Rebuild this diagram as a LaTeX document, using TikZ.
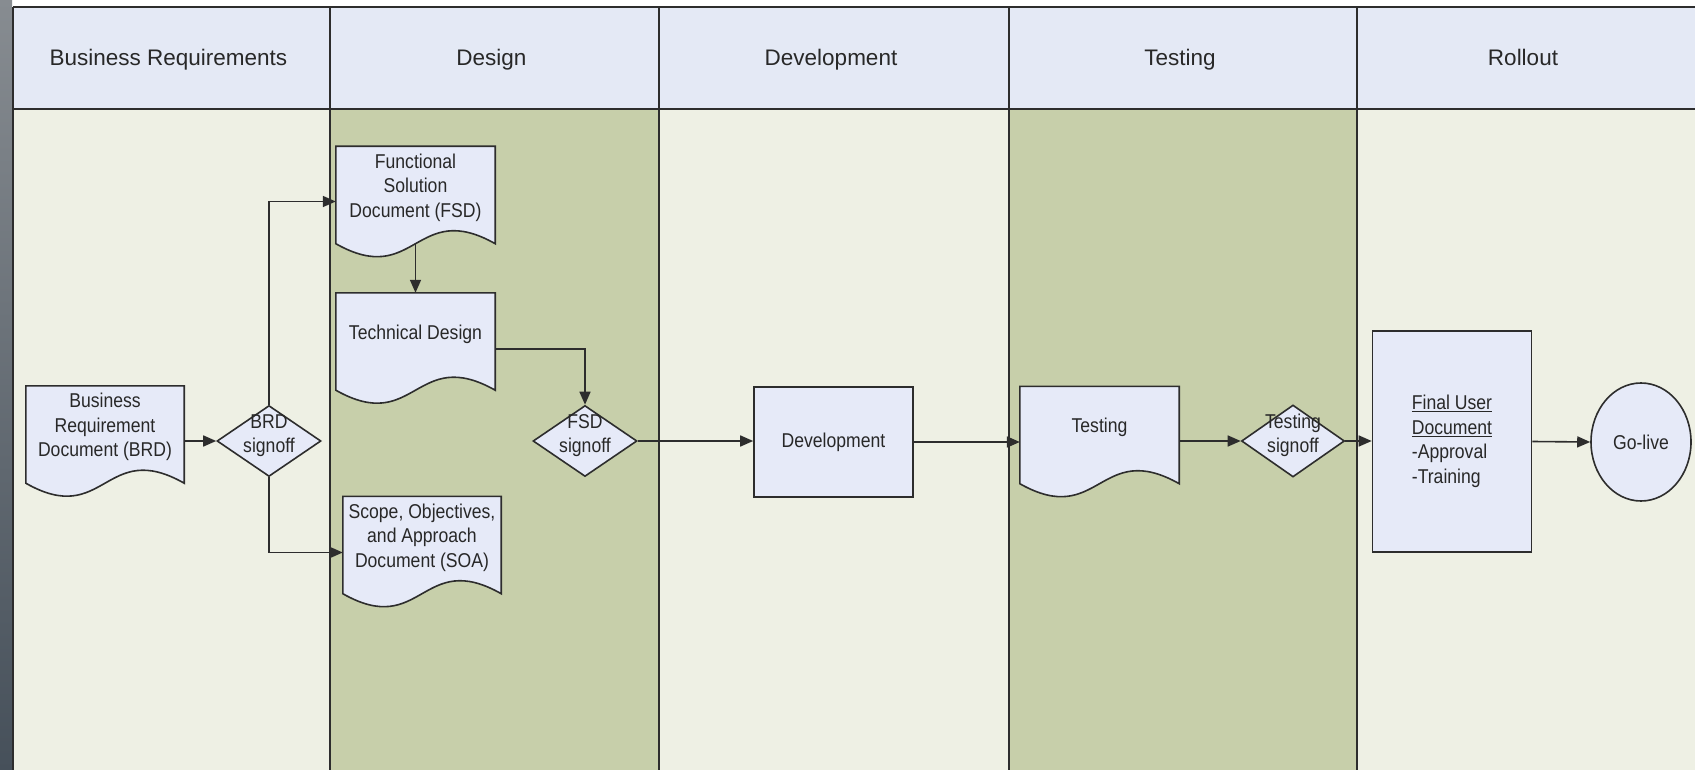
\documentclass[tikz,border=0pt]{standalone}
\usepackage{fontspec}
\setmainfont{Liberation Sans}
\newfontfamily\shapefont{Liberation Sans}[FakeStretch=0.88]
\usetikzlibrary{arrows.meta,shapes.geometric}

\definecolor{headfill}{RGB}{228,233,245}
\definecolor{lanelight}{RGB}{238,240,228}
\definecolor{lanedark}{RGB}{199,207,170}
\definecolor{shapefill}{RGB}{230,234,248}
\definecolor{lineclr}{RGB}{45,45,45}
\definecolor{txtclr}{RGB}{40,40,40}
\definecolor{stripa}{RGB}{135,140,145}
\definecolor{stripb}{RGB}{88,112,125}
\definecolor{stripc}{RGB}{70,80,90}

\pgfdeclarelayer{lanes}
\pgfdeclarelayer{docs}
\pgfsetlayers{lanes,docs,main}

\newcommand\dtext[1]{\makebox[0pt]{\smash{\begin{tabular}{@{}c@{}}#1\end{tabular}}}}
\newcommand\docwave[1]{%
  \begin{pgfonlayer}{docs}
  \draw[docline] (#1.north west) -- (#1.north east) -- ([yshift=-15pt]#1.south east)
    .. controls ([yshift=30pt]#1.south) and ([yshift=-60pt]#1.south) .. ([yshift=-15pt]#1.south west) -- cycle;
  \end{pgfonlayer}}

\begin{document}
\begin{tikzpicture}[x=1pt,y=-1pt,
  laneline/.style={draw=lineclr,line width=1.3pt},
  headtext/.style={font=\fontsize{22.5}{27}\selectfont,text=txtclr,anchor=base},
  shapetext/.style={font=\shapefont\fontsize{20}{24.5}\selectfont,text=txtclr},
  doc/.style={shapetext,inner sep=0pt,minimum width=159pt,minimum height=82pt,align=center},
  docline/.style={draw=lineclr,fill=shapefill,line width=1.6pt},
  decision/.style={shapetext,diamond,draw=lineclr,fill=shapefill,line width=1.6pt,inner sep=0pt,minimum width=104pt,minimum height=71pt},
  process/.style={shapetext,rectangle,draw=lineclr,fill=shapefill,line width=1.6pt,inner sep=0pt,minimum width=159pt,minimum height=110pt},
  terminal/.style={shapetext,ellipse,draw=lineclr,fill=shapefill,line width=1.6pt,inner sep=0pt,minimum width=100pt,minimum height=118pt},
  flow/.style={draw=lineclr,line width=1.6pt,-{Triangle[length=13pt,width=11pt]}}]
\useasboundingbox (0,0) rectangle (1695,770);

\begin{pgfonlayer}{lanes}
\fill[white] (0,0) rectangle (1695,770);
\shade[top color=stripa,middle color=stripb,bottom color=stripc] (0,0) rectangle (12,770);
\fill[headfill] (13,7) rectangle (1695,109);
\foreach \xa/\xb/\clr in {13/330/lanelight,330/659/lanedark,659/1009/lanelight,1009/1357/lanedark,1357/1695/lanelight}
  \fill[\clr] (\xa,109) rectangle (\xb,770);
\end{pgfonlayer}

\draw[laneline] (13,7) -- (1695,7);
\draw[laneline,line width=2.2pt] (13,109) -- (1695,109);
\foreach \xa in {13,330,659,1009,1357}
  \draw[laneline] (\xa,7) -- (\xa,770);

\foreach \xa/\xb/\name [count=\i] in {13/330/Business Requirements,330/659/Design,659/1009/Development,1009/1357/Testing,1357/1695/Rollout}
  \node[headtext] (hdr\i) at ({(\xa+\xb)/2-3},66) {\name};

\node[doc,minimum width=158pt] (brd) at (105,427) {Business\\Requirement\\Document (BRD)};
\node[doc] (fsd) at (415.5,187.5) {Functional\\Solution\\Document (FSD)};
\node[doc] (td) at (415.5,334) {Technical Design};
\node[doc,minimum width=158pt] (soa) at (422,537.5) {Scope, Objectives,\\and Approach\\Document (SOA)};
\node[doc] (testdoc) at (1099.5,427.5) {Testing};
\docwave{brd}
\docwave{fsd}
\docwave{td}
\docwave{soa}
\docwave{testdoc}

\node[decision] (brdsign) at (269,441) {\dtext{BRD\\signoff}};
\node[decision] (fsdsign) at (585,441) {\dtext{FSD\\signoff}};
\node[decision,minimum width=103pt,minimum height=72pt] (testsign) at (1293,441) {\dtext{Testing\\signoff}};
\node[process] (dev) at (833.5,442) {Development};
\node[process,minimum height=221pt,align=left] (final) at (1452,441.5) {\underline{Final User}\\\underline{Document}\\-Approval\\-Training};
\node[terminal] (golive) at (1641,442) {Go-live};

\draw[flow] (brd.east |- brdsign.west) -- (brdsign.west);
\draw[flow] (brdsign.north) |- ([yshift=-14pt]fsd.west);
\draw[flow] (brdsign.south) |- ([yshift=-15pt]soa.west);
\draw[flow] ([yshift=-15pt]fsd.south) -- (td.north);
\draw[flow] ([yshift=-15pt]td.east) -| (fsdsign.north);
\draw[flow] (fsdsign.east) -- (fsdsign.east -| dev.west);
\draw[flow] (dev.east) -- (dev.east -| testdoc.west);
\draw[flow] (testdoc.east |- testsign.west) -- (testsign.west);
\draw[flow] (testsign.east) -- (testsign.east -| final.west);
\draw[flow] (final.east) -- (golive.west);
\end{tikzpicture}
\end{document}
